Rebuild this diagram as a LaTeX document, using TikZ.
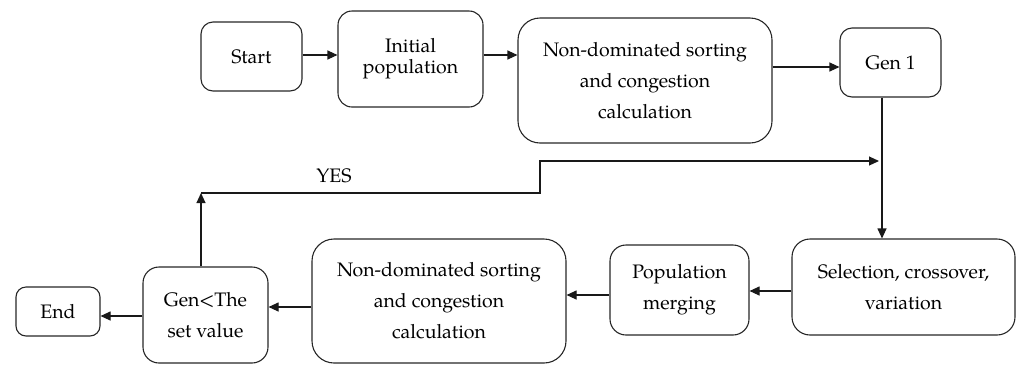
\documentclass[tikz,border=0pt]{standalone}
\usepackage{fontspec}
\setmainfont{TeX Gyre Pagella}
\usetikzlibrary{arrows.meta}
\tikzset{
  box/.style={draw=black!85, line width=1.1pt, rounded corners=#1, align=center, inner sep=0pt,
    font=\fontsize{19.5}{31}\selectfont},
  box/.default=12pt,
  arr/.style={draw=black!90, line width=1.1pt, -{Triangle[length=10pt,width=9pt]}},
  ln/.style={draw=black!90, line width=1.1pt},
}
\begin{document}
\begin{tikzpicture}[x=1pt,y=-1pt]
\useasboundingbox (0,0) rectangle (1016,365);
% top row
\node[box, minimum width=101pt, minimum height=69pt] (start) at (251.5,56.5) {Start};
\node[box=14pt, minimum width=145pt, minimum height=96pt, font=\fontsize{19.5}{21}\selectfont] (init) at (410.5,59) {Initial\\population};
\node[box=22pt, minimum width=254pt, minimum height=125pt] (nd1) at (645,80.5) {Non-dominated sorting\\and congestion\\calculation};
\node[box, minimum width=101pt, minimum height=69pt] (gen1) at (890.5,62.5) {Gen 1};
% bottom row
\node[box=18pt, minimum width=223pt, minimum height=96pt] (sel) at (903.5,287) {Selection, crossover,\\variation};
\node[box=16pt, minimum width=139pt, minimum height=90pt] (merge) at (679.5,290) {Population\\merging};
\node[box=22pt, minimum width=254pt, minimum height=124pt] (nd2) at (439,301) {Non-dominated sorting\\and congestion\\calculation};
\node[box=16pt, minimum width=125pt, minimum height=96pt] (cond) at (205.5,315) {Gen<The\\set value};
\node[box=10pt, minimum width=84pt, minimum height=49pt] (end) at (58,311.5) {End};
% label
\node[font=\fontsize{19.5}{24}\selectfont, inner sep=0pt] (yes) at (334,176) {YES};
% coordinates
\coordinate (up) at (201,193);
\coordinate (step1) at (540,193);
\coordinate (step2) at (540,161);
\coordinate (join) at (882,161);
% connectors
\draw[arr] (start.east |- 0,55) -- (init.west |- 0,55);
\draw[arr] (init.east |- 0,55) -- (nd1.west |- 0,55);
\draw[arr] (nd1.east |- 0,67) -- (gen1.west |- 0,67);
\draw[arr] (gen1.south -| join) -- (sel.north -| join);
\draw[arr] (sel.west |- 0,291) -- (merge.east |- 0,291);
\draw[arr] (merge.west |- 0,295) -- (nd2.east |- 0,295);
\draw[arr] (nd2.west |- 0,307) -- (cond.east |- 0,307);
\draw[arr] (cond.west |- 0,316) -- (end.east |- 0,316);
\draw[arr] (cond.north -| up) -- (up);
\draw[arr] (up) -- (step1) -- (step2) -- ([xshift=-3pt]join);
\end{tikzpicture}
\end{document}
